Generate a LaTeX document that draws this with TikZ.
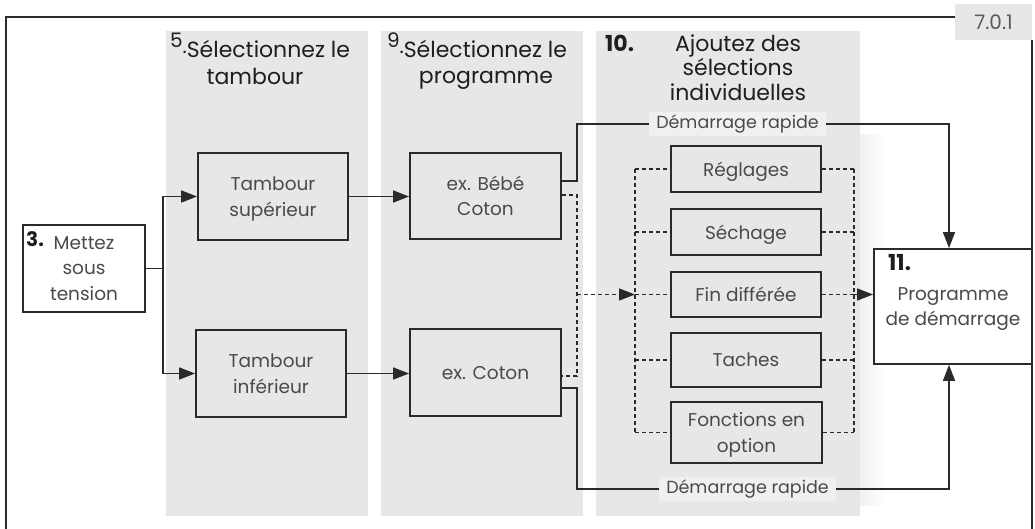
\documentclass[tikz,border=0pt]{standalone}
\usepackage{fontspec}
\setmainfont{Poppins}
\usetikzlibrary{arrows.meta,calc}
\definecolor{colgray}{HTML}{E6E7E8}
\definecolor{labgray}{HTML}{F0F0F1}
\definecolor{shadegray}{HTML}{F1F1F1}
\definecolor{lineclr}{HTML}{2A2A2A}
\definecolor{txtclr}{HTML}{4A4A4A}
\definecolor{headclr}{HTML}{1E1E1E}
\definecolor{verclr}{HTML}{5A5A5A}
\begin{document}
\begin{tikzpicture}[x=1pt,y=-1pt,
  column/.style={fill=colgray,draw=none},
  box/.style={draw=lineclr,line width=1.8pt,fill=colgray,align=center,inner sep=0pt,
    text=txtclr,text depth=0pt,font=\fontsize{18.5}{25.5}\selectfont},
  heading/.style={text=headclr,font=\fontsize{22}{27}\selectfont,inner sep=0pt,anchor=base},
  num/.style={text=headclr,font=\fontsize{22}{24}\selectfont\bfseries,inner sep=0pt,anchor=base west},
  conn/.style={draw=lineclr,line width=1.6pt},
  dsh/.style={draw=lineclr,line width=1.3pt,dash pattern=on 4pt off 3pt},
  arr/.style={-{Triangle[length=16pt,width=12pt]}},
  lab/.style={fill=labgray,text=txtclr,font=\fontsize{17.5}{20}\selectfont,inner xsep=7pt,inner ysep=3pt},
  frame/.style={draw=lineclr,line width=1.5pt}
]
\useasboundingbox (0,0) rectangle (1035,529);
\fill[white] (0,0) rectangle (1035,529);

% faint shadow to the right of the last column
\shade[left color=shadegray,right color=white,draw=none] (860,135) rectangle (885,505);

% columns
\path[column] (166,31) rectangle (368,516);
\path[column] (381,31) rectangle (583,516);
\path[column] (596,31) rectangle (860,516);

% frame
\draw[frame] (955,17) -- (6,17) -- (6,529);
\draw[frame] (1032,40) -- (1032,529);
\node[fill=colgray,minimum width=77,minimum height=36,inner sep=0pt,text=verclr,
  font=\fontsize{20}{22}\selectfont] (vers) at (993.5,22) {7.0.1};

% headings
\node[heading] (h1a) at (260,58) {{\fontsize{20}{20}\selectfont\raisebox{10pt}{5}\raisebox{4pt}{.}}Sélectionnez le};
\node[heading] (h1b) at (255,85) {tambour};
\node[heading] (h2a) at (477,58) {{\fontsize{20}{20}\selectfont\raisebox{10pt}{9}\raisebox{4pt}{.}}Sélectionnez le};
\node[heading] (h2b) at (486,84) {programme};
\node[num] (h3n) at (605,52) {10.};
\node[heading] (h3a) at (738,52) {Ajoutez des};
\node[heading] (h3b) at (738,76) {sélections};
\node[heading] (h3c) at (738,101) {individuelles};

% boxes
\node[box,fill=white,minimum width=122,minimum height=87] (mettez) at (84,268.5) {Mettez\\sous\\tension};
\node[num,font=\fontsize{20}{22}\selectfont\bfseries] (n3) at (26,247) {3.};
\node[box,minimum width=150,minimum height=87] (tsup) at (273,196.5) {Tambour\\supérieur};
\node[box,minimum width=150,minimum height=87] (tinf) at (271,373.5) {Tambour\\inférieur};
\node[box,minimum width=151,minimum height=86] (bebe) at (485.5,196) {ex. Bébé\\Coton};
\node[box,minimum width=151,minimum height=87] (coton) at (485.5,372.5) {ex. Coton};
\node[box,minimum width=150,minimum height=46] (regl) at (746,169) {Réglages};
\node[box,minimum width=150,minimum height=46] (sech) at (746,232) {Séchage};
\node[box,minimum width=150,minimum height=45] (fin) at (746,294.5) {Fin différée};
\node[box,minimum width=150,minimum height=54] (tach) at (746,360) {Taches};
\node[box,minimum width=151,minimum height=61] (fonc) at (746.5,432.5) {Fonctions en\\option};
\node[box,fill=white,minimum width=158,minimum height=115] (prog) at (953,306.5) {Programme\\de démarrage};
\node[num] (n11) at (888,270) {11.};

% labels
\node[lab] (lab1) at (737.5,124) {Démarrage rapide};
\node[lab] (lab2) at (747.5,489) {Démarrage rapide};

% helper coordinates
\coordinate (split) at (163,268.5);
\coordinate (bx) at (577,0);
\coordinate (lb) at (635,0);
\coordinate (rb) at (854,0);
\coordinate (px) at (949,0);

% connectors
\draw[conn] (mettez.east) -- (split);
\draw[conn,arr] (split) |- (tsup.west);
\draw[conn,arr] (split) |- (tinf.west);
\draw[conn,arr] (tsup.east) -- (tsup.east -| bebe.west);
\draw[conn,arr] (tinf.east) -- (tinf.east -| coton.west);

\draw[conn] ([yshift=15pt]bebe.east) -- ([yshift=15pt]bebe.east -| bx) |- (lab1.west);
\draw[conn,arr] (lab1.east) -| (prog.north -| px);
\draw[conn] ([yshift=-15.5pt]coton.east) -- ([yshift=-15.5pt]coton.east -| bx) |- (lab2.west);
\draw[conn,arr] (lab2.east) -| (prog.south -| px);

\draw[dsh] ([yshift=1pt]bebe.east) -- ([yshift=1pt]bebe.east -| bx) -- ([yshift=-3.5pt]coton.east -| bx) -- ([yshift=-3.5pt]coton.east);
\draw[dsh,arr] (fin.west -| bx) -- (fin.west -| lb);
\draw[dsh] (regl.west -| lb) -- (fonc.west -| lb);
\draw[dsh] (regl.east -| rb) -- (fonc.east -| rb);
\foreach \b in {regl,sech,fin,tach,fonc}{
  \draw[dsh] (\b.west -| lb) -- (\b.west);
  \draw[dsh] (\b.east) -- (\b.east -| rb);
}
\draw[dsh,arr] (fin.east -| rb) -- (fin.east -| prog.west);
\end{tikzpicture}
\end{document}
